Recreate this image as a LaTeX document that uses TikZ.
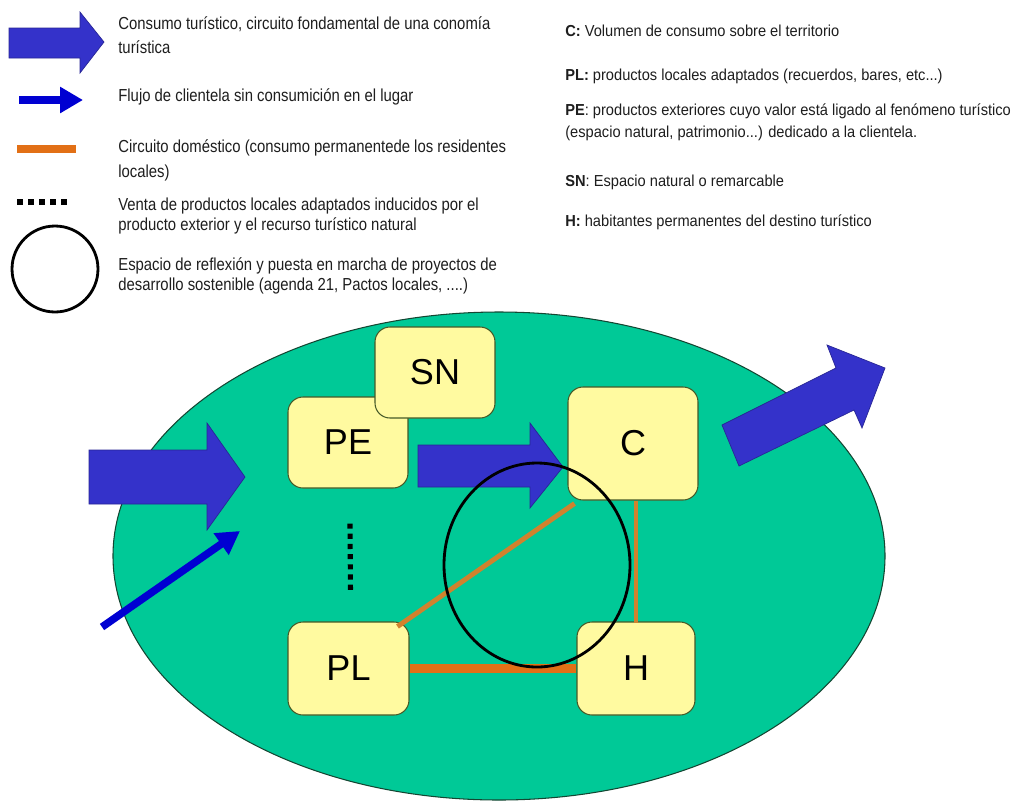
\documentclass[tikz,border=0pt]{standalone}
\usepackage{fontspec}
\setmainfont[FakeStretch=0.92]{Liberation Sans}
\newfontfamily\leftfont[FakeStretch=0.855]{Liberation Sans}
\newfontfamily\labfont{Liberation Sans}
\usetikzlibrary{arrows.meta}
\definecolor{ground}{RGB}{0,201,151}
\definecolor{groundline}{RGB}{20,70,50}
\definecolor{boxfill}{RGB}{255,250,160}
\definecolor{boxline}{RGB}{70,90,40}
\definecolor{bigblue}{RGB}{52,50,202}
\definecolor{bigblueline}{RGB}{40,38,150}
\definecolor{flowblue}{RGB}{0,0,210}
\definecolor{thinorange}{RGB}{208,130,45}
\definecolor{thickorange}{RGB}{226,112,22}
\definecolor{legtext}{RGB}{30,30,30}
\tikzset{
  legL/.style={anchor=base west, inner sep=0pt, text=legtext, font=\leftfont\fontsize{9.9}{12}\selectfont},
  legR/.style={anchor=base west, inner sep=0pt, text=legtext, font=\fontsize{9.05}{11}\selectfont},
  box/.style={draw=boxline, line width=0.6pt, fill=boxfill, rounded corners=8.5pt,
    font=\labfont\fontsize{20.5}{24}\selectfont, inner sep=0pt},
  bigarrow/.style={fill=bigblue, draw=bigblueline, line width=0.4pt, line join=miter},
  flow/.style={draw=flowblue, line width=4.3pt, -{Triangle[length=0.46cm,width=0.5cm]}},
  thinline/.style={draw=thinorange, line width=2.8pt},
  thickline/.style={draw=thickorange, line width=5.4pt},
  dots/.style={draw=black, line width=2.9pt, dash pattern=on 2.9pt off 2.9pt},
  reflect/.style={draw=black, line width=1.6pt}
}
\begin{document}
\begin{tikzpicture}[x=0.02cm, y=-0.02cm]
\useasboundingbox (0,0) rectangle (1014,802);
\fill[white] (0,0) rectangle (1014,802);

% ---------- legend, left ----------
\draw[bigarrow] (9,28) -- (80,28) -- (80,12) -- (104,42) -- (80,73) -- (80,58) -- (9,58) -- cycle;
\coordinate (la1) at (19,100);
\coordinate (la2) at (83,100);
\draw[flow] (la1) -- (la2);
\coordinate (lo1) at (17,149);
\coordinate (lo2) at (76,149);
\draw[draw=thickorange, line width=4.5pt] (lo1) -- (lo2);
\coordinate (ld1) at (17,202);
\coordinate (ld2) at (70,202);
\draw[draw=black, line width=3.2pt, dash pattern=on 3.3pt off 3.0pt] (ld1) -- (ld2);
\node[reflect, circle, minimum size=1.72cm, inner sep=0pt] (lc) at (55,269) {};

\node[legL] (t1) at (118,29) {Consumo turístico, circuito fondamental de una conomía};
\node[legL] (t2) at (118,53) {turística};
\node[legL] (t3) at (118,101) {Flujo de clientela sin consumición en el lugar};
\node[legL] (t4) at (118,152) {Circuito doméstico (consumo permanentede los residentes};
\node[legL] (t5) at (118,177) {locales)};
\node[legL] (t6) at (118,210) {Venta de productos locales adaptados inducidos por el};
\node[legL] (t7) at (118,230) {producto exterior y el recurso turístico natural};
\node[legL] (t8) at (118,270) {Espacio de reflexión y puesta en marcha de proyectos de};
\node[legL] (t9) at (118,290) {desarrollo sostenible (agenda 21, Pactos locales, ....)};

% ---------- legend, right ----------
\node[legR] (r1) at (565,36) {\textbf{C:} Volumen de consumo sobre el territorio};
\node[legR] (r2) at (565,80) {\textbf{PL:} productos locales adaptados (recuerdos, bares, etc...)};
\node[legR] (r3) at (565,115) {\textbf{PE}: productos exteriores cuyo valor está ligado al fenómeno turístico};
\node[legR] (r4) at (565,137) {(espacio natural, patrimonio...) dedicado a la clientela.};
\node[legR] (r5) at (565,186) {\textbf{SN}: Espacio natural o remarcable};
\node[legR] (r6) at (565,226) {\textbf{H:} habitantes permanentes del destino turístico};

% ---------- territory ----------
\draw[fill=ground, draw=groundline, line width=0.6pt] (499,556) ellipse [x radius=386, y radius=244];

% incoming big arrow
\draw[bigarrow] (89,450) -- (207,450) -- (207,423) -- (245,477) -- (207,530) -- (207,504) -- (89,504) -- cycle;

% flow of clients without consumption
\coordinate (fa1) at (102,627);
\coordinate (fa2) at (240,531);
\draw[flow] (fa1) -- (fa2);

% boxes
\node[box, minimum width=2.4cm, minimum height=1.82cm] (PE) at (348,442.5) {PE};
\node[box, minimum width=2.4cm, minimum height=1.82cm] (SN) at (435,372.5) {SN};
\node[box, minimum width=2.6cm, minimum height=2.26cm] (C) at (633,443.5) {C};
\node[box, minimum width=2.42cm, minimum height=1.86cm] (PL) at (348.5,668.5) {PL};
\node[box, minimum width=2.36cm, minimum height=1.86cm] (H) at (636,668.5) {H};

% PE -> C big arrow
\draw[bigarrow] (418,445) -- (530,445) -- (530,423) -- (563,467) -- (530,508) -- (530,487) -- (418,487) -- cycle;

% outgoing big arrow
\draw[bigarrow] (722,425) -- (836,368) -- (827,345) -- (885,368) -- (862,428) -- (854,410) -- (739,466) -- cycle;

% domestic circuit
\draw[thickline] (PL.east) -- (H.west);
\draw[thinline] ([shift={(7,3)}]C.south west) -- ([shift={(-12,5)}]PL.north east);
\draw[thinline] (C.south -| H.north) -- ([yshift=-0.04cm]H.north);

% local products sales
\draw[dots] ([shift={(2,35)}]PE.south) -- ([shift={(2,-27)}]PL.north);

% reflection space
\draw[reflect] (537,565) ellipse [x radius=93, y radius=102];
\end{tikzpicture}
\end{document}
